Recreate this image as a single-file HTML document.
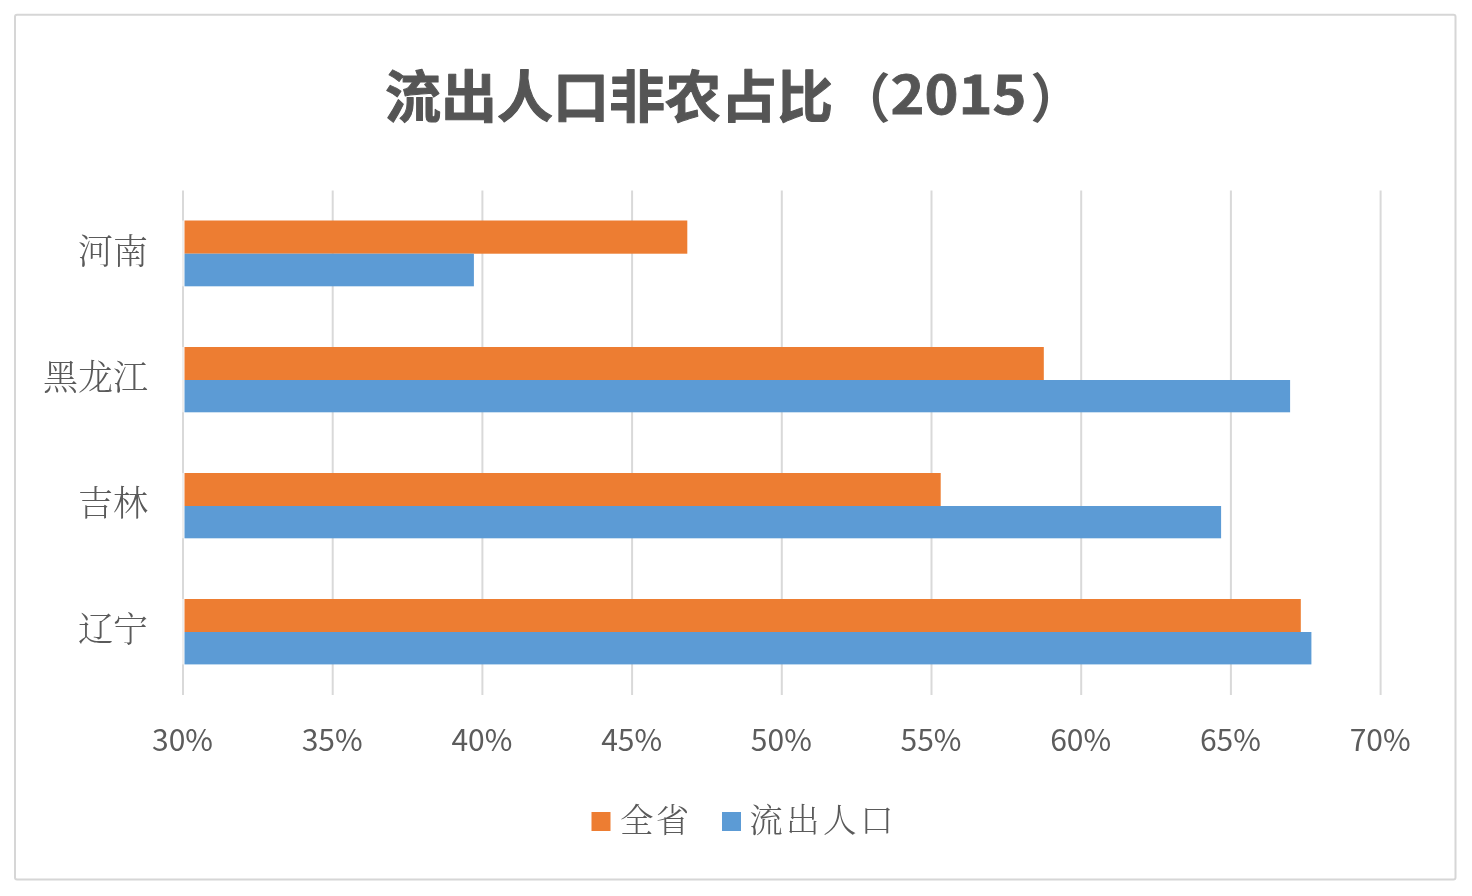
<!DOCTYPE html>
<html lang="zh-CN">
<head>
<meta charset="utf-8">
<title>流出人口非农占比（2015）</title>
<style>
  html, body { margin: 0; padding: 0; background: #ffffff; }
  body { width: 1472px; height: 896px; overflow: hidden; }
  svg { display: block; }
  .title { font-family: "Liberation Sans", "Noto Sans CJK SC", sans-serif; font-weight: 700; font-size: 56px; fill: #555555; stroke: #555555; stroke-width: 1px; stroke-linejoin: round; }
  .paren { font-family: "Liberation Sans", "Noto Sans CJK SC", sans-serif; font-weight: 700; font-size: 53px; fill: #555555; }
  .tnum { font-family: "Noto Sans CJK SC", "Liberation Sans", sans-serif; font-weight: 700; font-size: 53px; fill: #555555; stroke: #555555; stroke-width: 0.8px; }
  .cat { font-family: "Liberation Serif", "Noto Serif CJK SC", serif; font-weight: 300; font-size: 35px; fill: #5a5a5a; }
  .leg { font-family: "Liberation Serif", "Noto Serif CJK SC", serif; font-weight: 300; font-size: 33.5px; letter-spacing: 3.4px; fill: #5a5a5a; }
  .ax { font-family: "Noto Sans CJK SC", "Liberation Sans", sans-serif; font-weight: 400; font-size: 30px; fill: #5c5c5c; }
  .grid line { stroke: #d9d9d9; stroke-width: 2; }
</style>
</head>
<body>
<svg width="1472" height="896" viewBox="0 0 1472 896">
  <defs><filter id="soft" x="0" y="0" width="100%" height="100%" filterUnits="userSpaceOnUse"><feGaussianBlur stdDeviation="0.55"/></filter></defs>
  <rect x="0" y="0" width="1472" height="896" fill="#ffffff"/>
  <g filter="url(#soft)">
  <!-- chart border -->
  <rect x="15" y="14.8" width="1440.5" height="864.6" rx="2" ry="2" fill="none" stroke="#d6d6d6" stroke-width="2"/>

  <!-- title -->
  <text class="title" x="385" y="116.8">流出人口非农占比</text>
  <text class="paren" x="837.8" y="118">（</text>
  <text class="tnum" x="890.5" y="113.8" textLength="136" lengthAdjust="spacingAndGlyphs">2015</text>
  <text class="paren" x="1030.3" y="118">）</text>

  <!-- gridlines -->
  <g class="grid">
    <line x1="183" y1="190.5" x2="183" y2="695"/>
    <line x1="332.7" y1="190.5" x2="332.7" y2="695"/>
    <line x1="482.4" y1="190.5" x2="482.4" y2="695"/>
    <line x1="632.1" y1="190.5" x2="632.1" y2="695"/>
    <line x1="781.8" y1="190.5" x2="781.8" y2="695"/>
    <line x1="931.5" y1="190.5" x2="931.5" y2="695"/>
    <line x1="1081.2" y1="190.5" x2="1081.2" y2="695"/>
    <line x1="1230.9" y1="190.5" x2="1230.9" y2="695"/>
    <line x1="1380.6" y1="190.5" x2="1380.6" y2="695"/>
  </g>

  <!-- bars -->
  <g>
    <rect x="181.5" y="220.5" width="3" height="65.8" fill="#ffffff" opacity="0.55"/>
    <rect x="181.5" y="347" width="3" height="65.3" fill="#ffffff" opacity="0.55"/>
    <rect x="181.5" y="473" width="3" height="65.3" fill="#ffffff" opacity="0.55"/>
    <rect x="181.5" y="599" width="3" height="65.4" fill="#ffffff" opacity="0.55"/>
    <rect x="184.5" y="220.5" width="502.8" height="33.2" fill="#ed7d31"/>
    <rect x="184.5" y="253.7" width="289.4" height="32.6" fill="#5b9bd5"/>

    <rect x="184.5" y="347" width="859.3" height="33" fill="#ed7d31"/>
    <rect x="184.5" y="380" width="1105.6" height="32.3" fill="#5b9bd5"/>

    <rect x="184.5" y="473" width="756.2" height="33" fill="#ed7d31"/>
    <rect x="184.5" y="506" width="1036.6" height="32.3" fill="#5b9bd5"/>

    <rect x="184.5" y="599" width="1116.3" height="33" fill="#ed7d31"/>
    <rect x="184.5" y="632" width="1126.9" height="32.4" fill="#5b9bd5"/>
  </g>

  <!-- category labels -->
  <text class="cat" x="148" y="264" text-anchor="end">河南</text>
  <text class="cat" x="148" y="390" text-anchor="end">黑龙江</text>
  <text class="cat" x="148" y="516" text-anchor="end">吉林</text>
  <text class="cat" x="148" y="642" text-anchor="end">辽宁</text>

  <!-- axis labels -->
  <g class="ax" text-anchor="middle">
    <text x="182.5" y="750.8">30%</text>
    <text x="332.2" y="750.8">35%</text>
    <text x="481.9" y="750.8">40%</text>
    <text x="631.6" y="750.8">45%</text>
    <text x="781.3" y="750.8">50%</text>
    <text x="931" y="750.8">55%</text>
    <text x="1080.7" y="750.8">60%</text>
    <text x="1230.4" y="750.8">65%</text>
    <text x="1380.1" y="750.8">70%</text>
  </g>

  <!-- legend -->
  <rect x="591.5" y="812" width="19" height="19" fill="#ed7d31"/>
  <text class="leg" x="620" y="832" style="letter-spacing:2.2px">全省</text>
  <rect x="722" y="812" width="19" height="19" fill="#5b9bd5"/>
  <text class="leg" x="749.2" y="832">流出人口</text>
  </g>
</svg>
</body>
</html>
